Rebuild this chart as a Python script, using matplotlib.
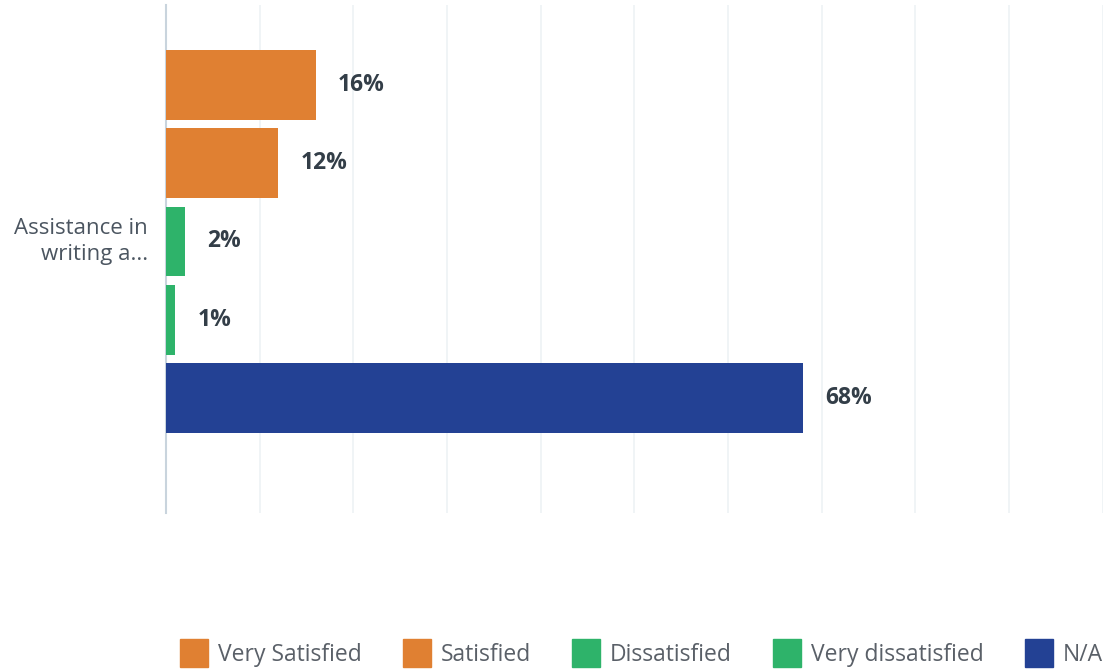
import matplotlib.pyplot as plt
from matplotlib.lines import Line2D

plt.rcParams['font.family'] = ['Open Sans', 'DejaVu Sans']

# Survey responses for a single question
question = 'Assistance in\nwriting a...'
answers = ['Very Satisfied', 'Satisfied', 'Dissatisfied', 'Very dissatisfied', 'N/A']
shares = [16, 12, 2, 1, 68]
colors = ['#E08032', '#E08032', '#2EB36A', '#2EB36A', '#234194']

fig = plt.figure(figsize=(11.06, 6.70), dpi=100)
ax = fig.add_axes([0.150, 0.2343, 0.847, 0.7582])

pos = list(range(len(answers)))
ax.barh(pos, shares, height=0.89, color=colors, zorder=3)

for y, v in zip(pos, shares):
    ax.annotate(f'{v}%', xy=(v, y), xytext=(16, 0), textcoords='offset points',
                ha='left', va='center', fontsize=16.5, fontweight='bold',
                color='#333E48')

ax.set_xlim(0, 100)
ax.set_ylim(5.47, -1.02)
ax.set_xticks(range(0, 101, 10))
ax.tick_params(axis='x', length=0, labelbottom=False)
ax.grid(axis='x', color='#EEF2F5', linewidth=1.2, zorder=0)
ax.set_yticks([])
for s in ['top', 'right', 'bottom']:
    ax.spines[s].set_visible(False)
ax.spines['left'].set_color('#C9D4DD')
ax.spines['left'].set_linewidth(1.5)

# category label, centred on the group of bars
ax.text(-0.019, 2, question, transform=ax.get_yaxis_transform(),
        ha='right', va='center', fontsize=16, color='#4B5560',
        multialignment='right', linespacing=1.35)

handles = [Line2D([], [], marker='s', linestyle='none', markersize=20,
                  markerfacecolor=c, markeredgecolor=c) for c in colors]
fig.legend(handles, answers, loc='center', bbox_to_anchor=(0.58, 0.023),
           ncol=5, frameon=False, fontsize=16.5, labelcolor='#5A6068',
           handlelength=1.2, handletextpad=0.45, columnspacing=1.8,
           borderaxespad=0, borderpad=0)

fig.savefig('out.png', dpi=100)
